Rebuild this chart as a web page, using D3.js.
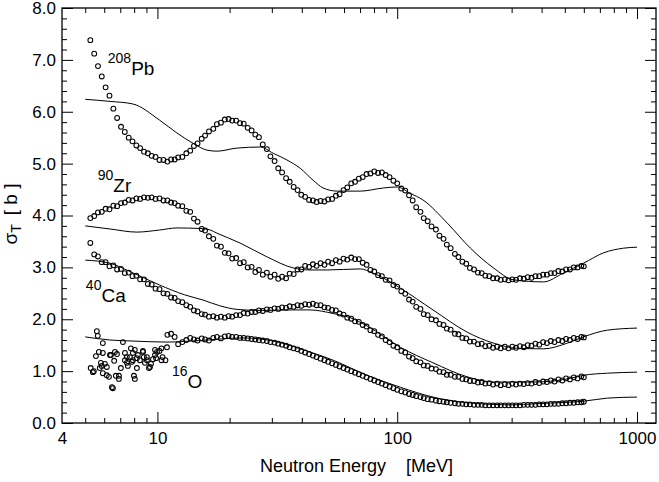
<!DOCTYPE html>
<html>
<head>
<meta charset="utf-8">
<script src="https://cdn.jsdelivr.net/npm/d3@7/dist/d3.min.js"></script>
<style>
  html, body { margin: 0; padding: 0; background: #fff; }
  svg { display: block; font-family: "Liberation Sans", Arial, Helvetica, sans-serif; }
</style>
</head>
<body>
<svg id="chart" width="659" height="482"></svg>
<script>
/* total neutron cross sections σT vs neutron energy — data (circles) and model (lines) */

// ---- measured points: common energy grid (MeV) ----
const energy = [
  5.25, 5.45, 5.65, 5.86, 6.08, 6.31, 6.55, 6.79, 7.05, 7.31,
  7.59, 7.87, 8.17, 8.47, 8.79, 9.12, 9.46, 9.82, 10.2, 10.6,
  11.0, 11.4, 11.8, 12.2, 12.7, 13.2, 13.7, 14.2, 14.7, 15.3,
  15.8, 16.4, 17.1, 17.7, 18.4, 19.1, 19.8, 20.5, 21.3, 22.1,
  22.9, 23.8, 24.7, 25.6, 26.5, 27.5, 28.6, 29.6, 30.8, 31.9,
  33.1, 34.4, 35.6, 37.0, 38.4, 39.8, 41.3, 42.9, 44.5, 46.1,
  47.9, 49.7, 51.5, 53.5, 55.5, 57.5, 59.7, 61.9, 64.3, 66.7,
  69.2, 71.8, 74.5, 77.3, 80.2, 83.2, 86.3, 89.5, 92.9, 96.4,
  100, 104, 108, 112, 116, 120, 125, 129, 134, 139,
  145, 150, 156, 161, 167, 174, 180, 187, 194, 201,
  209, 217, 225, 233, 242, 251, 261, 270, 281, 291,
  302, 313, 325, 337, 350, 363, 377, 391, 406, 421,
  437, 453, 470, 488, 506, 525, 545, 565, 586, 600
];

const pbSigma = [
  7.38, 7.12, 6.88, 6.68, 6.47, 6.31, 6.06, 5.88, 5.71, 5.61,
  5.50, 5.43, 5.35, 5.30, 5.23, 5.20, 5.15, 5.13, 5.07, 5.07,
  5.04, 5.08, 5.08, 5.12, 5.13, 5.20, 5.25, 5.34, 5.39, 5.48,
  5.54, 5.62, 5.67, 5.76, 5.79, 5.85, 5.86, 5.83, 5.83, 5.78,
  5.77, 5.69, 5.64, 5.56, 5.51, 5.37, 5.28, 5.14, 5.05, 4.91,
  4.83, 4.72, 4.65, 4.55, 4.49, 4.40, 4.36, 4.30, 4.29, 4.26,
  4.28, 4.27, 4.31, 4.32, 4.38, 4.41, 4.49, 4.54, 4.62, 4.65,
  4.71, 4.74, 4.80, 4.81, 4.85, 4.82, 4.83, 4.78, 4.74, 4.67,
  4.62, 4.52, 4.48, 4.39, 4.29, 4.16, 4.07, 3.95, 3.89, 3.79,
  3.73, 3.61, 3.55, 3.44, 3.37, 3.26, 3.20, 3.11, 3.07, 2.99,
  2.96, 2.90, 2.89, 2.84, 2.83, 2.79, 2.79, 2.76, 2.77, 2.75,
  2.77, 2.76, 2.79, 2.78, 2.81, 2.80, 2.83, 2.83, 2.86, 2.86,
  2.89, 2.89, 2.93, 2.92, 2.96, 2.96, 3.00, 3.00, 3.03, 3.02
];

const zrSigma = [
  3.95, 3.99, 4.06, 4.07, 4.13, 4.12, 4.19, 4.18, 4.24, 4.25,
  4.30, 4.29, 4.33, 4.32, 4.35, 4.34, 4.35, 4.32, 4.33, 4.29,
  4.29, 4.25, 4.24, 4.19, 4.18, 4.09, 4.07, 3.94, 3.88, 3.74,
  3.71, 3.60, 3.55, 3.42, 3.40, 3.28, 3.27, 3.17, 3.18, 3.08,
  3.10, 3.00, 3.01, 2.91, 2.95, 2.86, 2.90, 2.82, 2.86, 2.78,
  2.82, 2.79, 2.88, 2.87, 2.96, 2.96, 3.03, 3.01, 3.06, 3.03,
  3.08, 3.05, 3.11, 3.08, 3.14, 3.11, 3.17, 3.15, 3.19, 3.16,
  3.16, 3.09, 3.05, 2.95, 2.92, 2.85, 2.83, 2.76, 2.75, 2.66,
  2.63, 2.54, 2.49, 2.38, 2.34, 2.24, 2.20, 2.10, 2.08, 2.00,
  1.98, 1.91, 1.89, 1.82, 1.80, 1.72, 1.71, 1.64, 1.63, 1.57,
  1.57, 1.52, 1.53, 1.48, 1.49, 1.45, 1.47, 1.44, 1.47, 1.44,
  1.47, 1.45, 1.48, 1.46, 1.50, 1.49, 1.53, 1.51, 1.56, 1.54,
  1.58, 1.56, 1.60, 1.58, 1.62, 1.60, 1.64, 1.62, 1.66, 1.65
];

const caSigma = [
  3.47, 3.25, 3.21, 3.10, 3.10, 3.02, 3.04, 2.96, 2.97, 2.89,
  2.90, 2.83, 2.84, 2.77, 2.77, 2.68, 2.67, 2.59, 2.58, 2.50,
  2.49, 2.42, 2.41, 2.35, 2.33, 2.27, 2.24, 2.17, 2.15, 2.10,
  2.09, 2.05, 2.06, 2.03, 2.05, 2.03, 2.06, 2.05, 2.08, 2.08,
  2.12, 2.11, 2.14, 2.14, 2.17, 2.16, 2.19, 2.18, 2.21, 2.20,
  2.23, 2.22, 2.25, 2.24, 2.27, 2.26, 2.29, 2.28, 2.30, 2.27,
  2.27, 2.23, 2.22, 2.18, 2.17, 2.11, 2.09, 2.03, 2.01, 1.96,
  1.95, 1.89, 1.86, 1.79, 1.77, 1.70, 1.67, 1.60, 1.56, 1.49,
  1.46, 1.39, 1.36, 1.28, 1.25, 1.19, 1.17, 1.11, 1.10, 1.05,
  1.04, 0.99, 0.98, 0.93, 0.93, 0.89, 0.89, 0.85, 0.84, 0.81,
  0.81, 0.78, 0.79, 0.76, 0.77, 0.74, 0.76, 0.73, 0.75, 0.73,
  0.76, 0.74, 0.76, 0.75, 0.77, 0.76, 0.79, 0.77, 0.80, 0.79,
  0.82, 0.80, 0.84, 0.82, 0.86, 0.84, 0.88, 0.86, 0.90, 0.88
];

// 16O above ~11 MeV follows the grid; below that it is scattered (oLowE / oLowSigma)
const oSigma = [
  null, null, null, null, null, null, null, null, null, null,
  null, null, null, null, null, null, null, null, null, null,
  1.70, 1.72, 1.66, 1.52, 1.56, 1.60, 1.64, 1.61, 1.59, 1.63,
  1.61, 1.59, 1.64, 1.66, 1.63, 1.67, 1.68, 1.66, 1.66, 1.64,
  1.64, 1.63, 1.62, 1.61, 1.60, 1.59, 1.58, 1.56, 1.55, 1.53,
  1.51, 1.49, 1.46, 1.44, 1.42, 1.39, 1.36, 1.33, 1.30, 1.27,
  1.24, 1.21, 1.18, 1.15, 1.12, 1.09, 1.06, 1.03, 1.00, 0.97,
  0.94, 0.91, 0.88, 0.85, 0.82, 0.79, 0.76, 0.73, 0.70, 0.67,
  0.64, 0.61, 0.59, 0.56, 0.54, 0.52, 0.50, 0.48, 0.46, 0.45,
  0.43, 0.42, 0.41, 0.40, 0.39, 0.38, 0.37, 0.37, 0.36, 0.36,
  0.35, 0.35, 0.35, 0.34, 0.34, 0.34, 0.34, 0.34, 0.34, 0.34,
  0.34, 0.34, 0.34, 0.35, 0.35, 0.35, 0.35, 0.36, 0.36, 0.36,
  0.37, 0.37, 0.37, 0.38, 0.38, 0.39, 0.39, 0.40, 0.40, 0.41
];

const oLowE = [
  5.27, 5.38, 5.43, 5.59, 5.64, 5.54, 5.70, 5.75, 5.81, 5.86,
  5.92, 5.92, 6.15, 6.28, 6.15, 6.46, 6.52, 6.40, 6.71, 6.78,
  6.91, 6.91, 7.04, 7.18, 7.32, 7.46, 7.53, 7.75, 7.68, 7.90,
  7.98, 8.05, 8.21, 8.29, 8.45, 8.70, 8.78, 8.87, 9.04, 9.22,
  9.40, 9.58, 9.77, 9.96, 10.2, 10.4, 10.5, 10.8, 10.96, 10.4,
  5.92, 6.34, 6.65, 7.32, 7.46, 7.83, 7.90, 8.05, 8.21, 8.70,
  9.04, 9.31, 9.87, 9.77, 6.04, 6.60
];
const oLowSigma = [
  1.06, 0.98, 1.00, 1.77, 1.68, 1.29, 1.37, 1.06, 1.16, 1.10,
  1.54, 0.96, 0.92, 0.89, 1.08, 0.69, 0.67, 1.31, 0.91, 1.33,
  0.91, 0.85, 1.06, 1.56, 1.21, 1.16, 1.10, 1.44, 1.27, 1.21,
  0.91, 0.85, 1.06, 1.31, 1.21, 1.39, 1.27, 1.16, 1.27, 1.06,
  1.14, 1.23, 1.31, 1.37, 1.39, 1.21, 1.27, 1.21, 1.46, 1.44,
  1.35, 1.31, 1.37, 1.35, 1.27, 1.18, 1.35, 1.41, 1.25, 1.37,
  1.21, 1.08, 1.25, 1.41, 1.14, 1.20
];

// ---- model curves ----
const pbModelE = [5.0, 6.34, 7.90, 10.2, 12.06, 14.1, 16.1, 17.7, 21.5, 26.8, 30.4, 34.7, 39.4, 44.6, 49.1, 56.2, 70.1, 87.4, 100, 113, 128, 162, 202, 252, 305, 407, 493, 598, 725, 878, 1000];
const pbModelS = [6.24, 6.20, 6.15, 5.84, 5.59, 5.39, 5.26, 5.24, 5.30, 5.32, 5.20, 5.07, 4.91, 4.68, 4.53, 4.47, 4.47, 4.53, 4.55, 4.43, 4.30, 3.85, 3.37, 2.99, 2.76, 2.72, 2.89, 3.08, 3.28, 3.37, 3.39];

const zrModelE = [5.0, 6.34, 8.21, 10.2, 12.06, 15.05, 16.6, 17.7, 22.1, 28.7, 36.8, 43.3, 51.0, 70.1, 79.4, 103, 141, 196, 252, 317, 407, 513, 598, 753, 1000];
const zrModelS = [3.80, 3.74, 3.68, 3.72, 3.76, 3.75, 3.72, 3.66, 3.47, 3.20, 2.99, 2.95, 2.95, 2.97, 2.89, 2.60, 2.18, 1.75, 1.54, 1.44, 1.43, 1.54, 1.66, 1.79, 1.83];

const caModelE = [5.0, 6.34, 7.68, 10.2, 13.0, 15.5, 18.2, 21.5, 26.8, 36.8, 43.3, 54.1, 63.7, 74.9, 103, 141, 196, 252, 370, 513, 598, 753, 1000];
const caModelS = [3.14, 3.08, 2.92, 2.66, 2.47, 2.37, 2.26, 2.19, 2.17, 2.18, 2.18, 2.11, 2.03, 1.87, 1.46, 1.16, 0.89, 0.79, 0.79, 0.85, 0.92, 0.96, 0.98];

const oModelE = [5.0, 6.34, 7.90, 10.96, 15.05, 22.75, 26.8, 32.5, 39.4, 54.1, 74.9, 103, 141, 196, 305, 370, 513, 598, 753, 1000];
const oModelS = [1.66, 1.60, 1.58, 1.56, 1.59, 1.64, 1.62, 1.55, 1.43, 1.21, 0.92, 0.69, 0.50, 0.39, 0.35, 0.37, 0.40, 0.42, 0.48, 0.50];

// ---- nucleus labels (mass number, symbol, anchor in data units) ----
const nucMass = ["208", "90", "40", "16"];
const nucSymbol = ["Pb", "Zr", "Ca", "O"];
const nucAtE = [6.21, 5.64, 5.03, 11.5];
const nucAtS = [6.71, 4.45, 2.33, 0.67];

// ---- ticks ----
const xLabelTicks = [4, 10, 100, 1000];
const xMajorTicks = [10, 100, 1000];
const xMinorTicks = [5, 6, 7, 8, 9, 20, 30, 40, 50, 60, 70, 80, 90, 200, 300, 400, 500, 600, 700, 800, 900];
const yMajorTicks = [0, 1, 2, 3, 4, 5, 6, 7, 8];

/* ========================================================================= */

const svg = d3.select("#chart");
const X0 = 62, X1 = 656, Y0 = 423, Y1 = 8;

const x = d3.scaleLog().domain([4, 1200]).range([X0, X1]);
const y = d3.scaleLinear().domain([0, 8]).range([Y0, Y1]);
const yMinorTicks = d3.range(0, 8.001, 0.2).filter((v) => Math.abs(v - Math.round(v)) > 0.01);

function cleanAxis(g) {
  g.select(".domain").remove();
  g.selectAll(".tick line").attr("stroke", "#000").attr("stroke-width", 1);
  g.selectAll("text").attr("fill", "#000").style("font-size", "17px")
    .style("font-family", '"Liberation Sans", Arial, Helvetica, sans-serif');
}

function drawAxes() {
  // bottom: labels, major, minor (ticks point inward)
  svg.append("g").attr("transform", `translate(0,${Y0})`)
    .call(d3.axisBottom(x).tickValues(xLabelTicks).tickSize(0).tickPadding(9).tickFormat(d3.format("d")))
    .call(cleanAxis);
  svg.append("g").attr("transform", `translate(0,${Y0})`)
    .call(d3.axisBottom(x).tickValues(xMajorTicks).tickSize(-11).tickFormat(""))
    .call(cleanAxis);
  svg.append("g").attr("transform", `translate(0,${Y0})`)
    .call(d3.axisBottom(x).tickValues(xMinorTicks).tickSize(-5).tickFormat(""))
    .call(cleanAxis);
  // top
  svg.append("g").attr("transform", `translate(0,${Y1})`)
    .call(d3.axisTop(x).tickValues(xMajorTicks).tickSize(-11).tickFormat(""))
    .call(cleanAxis);
  svg.append("g").attr("transform", `translate(0,${Y1})`)
    .call(d3.axisTop(x).tickValues(xMinorTicks).tickSize(-5).tickFormat(""))
    .call(cleanAxis);
  // left with labels
  svg.append("g").attr("transform", `translate(${X0},0)`)
    .call(d3.axisLeft(y).tickValues(yMajorTicks).tickSize(-11).tickPadding(6).tickFormat(d3.format(".1f")))
    .call(cleanAxis);
  svg.append("g").attr("transform", `translate(${X0},0)`)
    .call(d3.axisLeft(y).tickValues(yMinorTicks).tickSize(-5).tickFormat(""))
    .call(cleanAxis);
  // right
  svg.append("g").attr("transform", `translate(${X1},0)`)
    .call(d3.axisRight(y).tickValues(yMajorTicks).tickSize(-11).tickFormat(""))
    .call(cleanAxis);
  svg.append("g").attr("transform", `translate(${X1},0)`)
    .call(d3.axisRight(y).tickValues(yMinorTicks).tickSize(-5).tickFormat(""))
    .call(cleanAxis);

  svg.append("rect").attr("x", X0).attr("y", Y1)
    .attr("width", X1 - X0).attr("height", Y0 - Y1)
    .attr("fill", "none").attr("stroke", "#000").attr("stroke-width", 1.3);

  // axis titles
  svg.append("text").attr("x", 260).attr("y", 472).attr("fill", "#000")
    .style("font-size", "18px").text("Neutron Energy");
  svg.append("text").attr("x", 406).attr("y", 472).attr("fill", "#000")
    .style("font-size", "18px").text("[MeV]");

  const yt = svg.append("text").attr("transform", "translate(17,214) rotate(-90)")
    .attr("text-anchor", "middle").attr("fill", "#000").style("font-size", "19px");
  yt.append("tspan").text("σ");
  yt.append("tspan").attr("dy", 4).style("font-size", "14px").text("T");
  yt.append("tspan").attr("dy", -4).attr("dx", 9).text("[ b ]");
}

function drawModels() {
  const line = d3.line().x((d) => x(d[0])).y((d) => y(d[1])).curve(d3.curveMonotoneX);
  const models = [
    [pbModelE, pbModelS], [zrModelE, zrModelS], [caModelE, caModelS], [oModelE, oModelS]
  ];
  svg.append("g").selectAll("path").data(models).join("path")
    .attr("d", (m) => line(m[0].map((e, i) => [e, m[1][i]])))
    .attr("fill", "none").attr("stroke", "#000").attr("stroke-width", 1);
}

function drawData() {
  const pts = [];
  [pbSigma, zrSigma, caSigma, oSigma].forEach((arr) => {
    arr.forEach((s, i) => { if (s != null) pts.push([energy[i], s]); });
  });
  oLowE.forEach((e, i) => pts.push([e, oLowSigma[i]]));

  // open circles, drawn heavy enough that the dense runs read as a band
  svg.append("g").selectAll("circle").data(pts).join("circle")
    .attr("cx", (d) => x(d[0])).attr("cy", (d) => y(d[1])).attr("r", 2.4)
    .attr("fill", "none").attr("stroke", "#000").attr("stroke-width", 1.05);
}

function drawLabels() {
  const g = svg.append("g").attr("fill", "#000");
  nucSymbol.forEach((sym, i) => {
    const t = g.append("text").attr("x", x(nucAtE[i])).attr("y", y(nucAtS[i]) - 12);
    t.append("tspan").style("font-size", "14px").text(nucMass[i]);
    t.append("tspan").attr("dy", 12).style("font-size", "19px").text(sym);
  });
}

drawAxes();
drawModels();
drawData();
drawLabels();
</script>
</body>
</html>
